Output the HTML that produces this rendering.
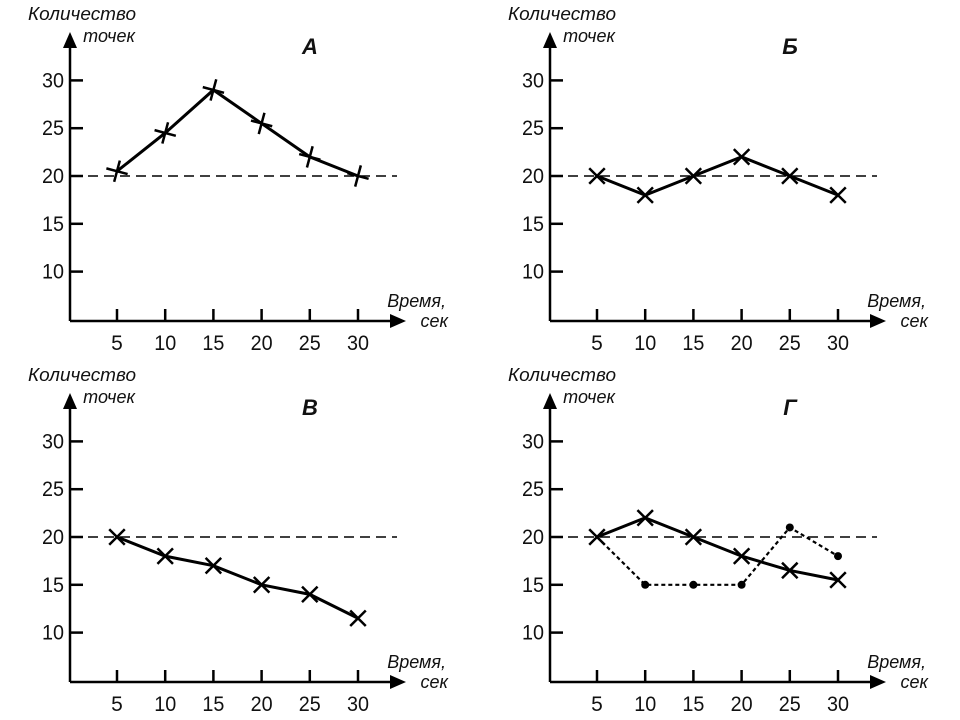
<!DOCTYPE html>
<html><head><meta charset="utf-8"><style>
body{margin:0;background:#fff}
svg{display:block}
text{font-family:"Liberation Sans",sans-serif;fill:#111}
</style></head><body>
<svg id="c" width="960" height="720" viewBox="0 0 960 720"></svg>
<script>
const xCats=[5,10,15,20,25,30];
const yTicks=[10,15,20,25,30];
const titles=["А","Б","В","Г"];
const seriesA=[20.5,24.5,29,25.5,22,20];
const seriesB=[20,18,20,22,20,18];
const seriesV=[20,18,17,15,14,11.5];
const seriesG1=[20,22,20,18,16.5,15.5];
const seriesG2=[20,15,15,15,21,18];
const refLine=20;
const NS="http://www.w3.org/2000/svg";
const svg=document.getElementById('c');
function mk(tag,attrs,parent){const e=document.createElementNS(NS,tag);for(const k in attrs)e.setAttribute(k,attrs[k]);(parent||svg).appendChild(e);return e;}
function panel(ox,oy,idx,series,name){
  const g=mk('g',{transform:`translate(${ox},${oy})`});
  
  
  const X=v=>117+(v-5)*48.2/5;
  const Y=v=>176-(v-20)*47.8/5;
  const ax=mk('path',{d:'M70 321 V42 M70 321 H395',stroke:'#000','stroke-width':2.5,fill:'none'},g);
  
  const a1=mk('polygon',{points:'70,32 63,48 77,48',fill:'#000'},g);
  
  const a2=mk('polygon',{points:'406,321 390,314 390,328',fill:'#000'},g);
  
  yTicks.forEach(t=>{
    const l=mk('line',{x1:70,x2:83,y1:Y(t),y2:Y(t),stroke:'#000','stroke-width':2.5},g);
    
    const tx=mk('text',{x:64,y:Y(t)+7,'text-anchor':'end','font-size':21,'textLength':22,'lengthAdjust':'spacingAndGlyphs'},g);
    tx.textContent=t;
  });
  xCats.forEach(c=>{
    const l=mk('line',{x1:X(c),x2:X(c),y1:309,y2:321,stroke:'#000','stroke-width':2.5},g);
    
    const tx=mk('text',{x:X(c),y:350,'text-anchor':'middle','font-size':21},g);
    if(c>=10){tx.setAttribute('textLength',22);tx.setAttribute('lengthAdjust','spacingAndGlyphs');}
    tx.textContent=c;
  });
  const d=mk('line',{x1:72,x2:397,y1:Y(refLine),y2:Y(refLine),stroke:'#000','stroke-width':1.5,'stroke-dasharray':'10 6'},g);
  
  const t1=mk('text',{x:82,y:20,'text-anchor':'middle','font-size':18,'font-style':'italic','textLength':108,'lengthAdjust':'spacingAndGlyphs'},g);
  t1.textContent='Количество';
  const t2=mk('text',{x:135,y:42,'text-anchor':'end','font-size':18,'font-style':'italic'},g);
  t2.textContent='точек';
  const t3=mk('text',{x:446,y:307,'text-anchor':'end','font-size':18,'font-style':'italic'},g);
  t3.textContent='Время,';
  const t4=mk('text',{x:448,y:327,'text-anchor':'end','font-size':18,'font-style':'italic'},g);
  t4.textContent='сек';
  const tt=mk('text',{x:310,y:54,'text-anchor':'middle','font-size':22,'font-style':'italic','font-weight':'bold'},g);
  tt.textContent=titles[idx];
  series.forEach(s=>{
    const pts=s.vals.map((v,i)=>`${X(xCats[i])},${Y(v)}`).join(' ');
    const pl=mk('polyline',{points:pts,fill:'none',stroke:'#000','stroke-width':s.dotted?2.2:3,'stroke-dasharray':s.dotted?'4 3':'none'},g);
    
    s.vals.forEach((v,i)=>{
      const cx=X(xCats[i]),cy=Y(v);
      if(s.dotted){
        if(i===0)return;
        const c=mk('circle',{cx,cy,r:4,fill:'#000'},g);
        
      }else{
        const rot=s.plus?15:45;
        const m=mk('path',{d:'M-11 0 H11 M0 -11 V11',stroke:'#000','stroke-width':2.5,transform:`translate(${cx},${cy}) rotate(${rot})`},g);
        
      }
    });
  });
}
panel(0,0,0,[{vals:seriesA,plus:true}],'panel-a');
panel(480,0,1,[{vals:seriesB}],'panel-b');
panel(0,361,2,[{vals:seriesV}],'panel-v');
panel(480,361,3,[{vals:seriesG2,dotted:true},{vals:seriesG1}],'panel-g');
</script>
</body></html>
